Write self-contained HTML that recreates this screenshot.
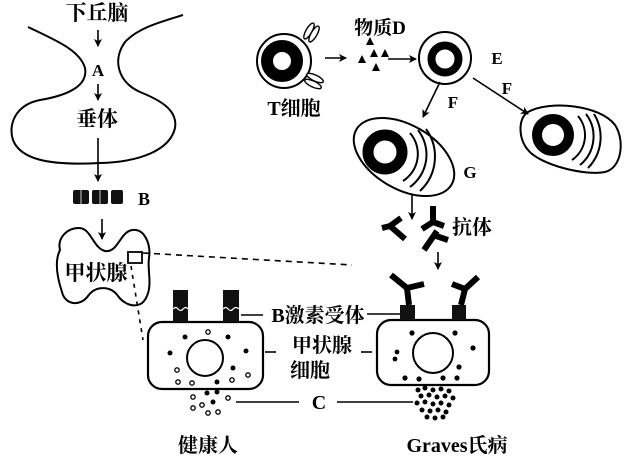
<!DOCTYPE html>
<html><head><meta charset="utf-8"><style>
html,body{margin:0;padding:0;background:#fff;}
svg{display:block;}
.cj{font-family:"Liberation Serif","Noto Serif CJK SC",serif;font-weight:bold;fill:#000;}
.lt{font-family:"Liberation Serif",serif;fill:#000;font-weight:bold;}
</style></head><body>
<svg width="629" height="461" viewBox="0 0 629 461" xmlns="http://www.w3.org/2000/svg">
<defs>
<marker id="ah" markerWidth="8" markerHeight="8" refX="7" refY="4" orient="auto" markerUnits="userSpaceOnUse">
<path d="M0,0 L8,4 L0,8 L2,4 z" fill="#000"/>
</marker>
</defs>
<g fill="none" stroke="#000" stroke-width="2">
<path d="M28,27 C55,40 80,50 85,68 C88,85 70,95 40,100 C15,105 8,125 13,140 C20,158 45,166 100,163 C140,162 170,150 175,128 C178,110 160,100 140,92 C118,82 112,60 125,42 C138,28 160,22 183,15"/>
<path d="M60,250 C57,238 67,228 79,228 C91,228 93,248 105,251 C118,253 120,232 132,230 C145,228 151,245 149,258 C147,270 153,285 146,298 C140,310 125,306 118,296 C111,286 96,285 88,296 C80,307 65,305 62,292 C58,280 54,262 60,250 Z"/>
<rect x="128" y="252" width="14" height="11" stroke-width="1.8"/>
</g>
<g stroke="#000" stroke-width="1.6" fill="none">
<line x1="98" y1="30" x2="98" y2="46" marker-end="url(#ah)"/>
<line x1="98" y1="84" x2="98" y2="100" marker-end="url(#ah)"/>
<line x1="98" y1="138" x2="98" y2="181" marker-end="url(#ah)"/>
<line x1="102" y1="219" x2="102" y2="239" marker-end="url(#ah)"/>
<line x1="325" y1="58" x2="346" y2="58" marker-end="url(#ah)"/>
<line x1="388" y1="59" x2="416" y2="59" marker-end="url(#ah)"/>
<line x1="440" y1="82" x2="423" y2="117" marker-end="url(#ah)"/>
<line x1="473" y1="78" x2="528" y2="114" marker-end="url(#ah)"/>
<line x1="412" y1="195" x2="412" y2="219" marker-end="url(#ah)"/>
<line x1="438" y1="252" x2="438" y2="269" marker-end="url(#ah)"/>
</g>
<line x1="143" y1="253" x2="352" y2="265" stroke="#000" stroke-width="1.6" stroke-dasharray="6,5"/>
<line x1="131" y1="266" x2="143" y2="340" stroke="#000" stroke-width="1.6" stroke-dasharray="4,5"/>
<g fill="#111">
<rect x="73" y="190" width="16" height="14" rx="2"/>
<rect x="92" y="190" width="16" height="14" rx="2"/>
<rect x="111" y="190" width="12" height="14" rx="2"/>
</g>
<g stroke="#fff" stroke-width="0.8" fill="none">
<line x1="81" y1="190" x2="81" y2="204"/><line x1="100" y1="190" x2="100" y2="204"/>
</g>

<!-- T cell -->
<circle cx="284" cy="61" r="27" fill="none" stroke="#000" stroke-width="2"/>
<circle cx="282" cy="61" r="15" fill="none" stroke="#000" stroke-width="12"/>
<g fill="#fff" stroke="#000" stroke-width="1.4">
<ellipse cx="309" cy="31" rx="9" ry="3" transform="rotate(-60 309 31)"/>
<ellipse cx="314" cy="34" rx="9" ry="3" transform="rotate(-60 314 34)"/>
<ellipse cx="315" cy="78" rx="9" ry="3" transform="rotate(25 315 78)"/>
<ellipse cx="313" cy="84" rx="9" ry="3" transform="rotate(25 313 84)"/>
</g>
<g fill="#000">
<path d="M370,37 L374,45 L366,45 z"/>
<path d="M362,55 L366,63 L358,63 z"/>
<path d="M374,49 L378,57 L370,57 z"/>
<path d="M385,49 L389,57 L381,57 z"/>
<path d="M376,63 L380,71 L372,71 z"/>
</g>
<!-- E cell -->
<circle cx="445" cy="58" r="26" fill="none" stroke="#000" stroke-width="2"/>
<circle cx="445" cy="59" r="13.5" fill="none" stroke="#000" stroke-width="8"/>
<!-- G cell -->
<ellipse cx="404" cy="157" rx="55" ry="32" transform="rotate(30 404 157)" fill="none" stroke="#000" stroke-width="2"/>
<circle cx="385" cy="152" r="17" fill="none" stroke="#000" stroke-width="11"/>
<g fill="none" stroke="#000" stroke-width="2">
<path d="M410,133 A32,32 0 0 1 403,181"/>
<path d="M418,130 A40,40 0 0 1 410,187"/>
<path d="M426,129 A47,47 0 0 1 420,191"/>
</g>
<!-- right plasma cell -->
<path d="M528,112 C550,100 600,105 615,125 C625,140 622,168 605,172 C585,176 540,165 528,150 C518,138 518,118 528,112 Z" fill="none" stroke="#000" stroke-width="2"/>
<circle cx="553" cy="135" r="16" fill="none" stroke="#000" stroke-width="10"/>
<g fill="none" stroke="#000" stroke-width="2">
<path d="M578,116 A30,30 0 0 1 572,160"/>
<path d="M586,114 A37,37 0 0 1 580,165"/>
<path d="M594,114 A44,44 0 0 1 588,168"/>
</g>
<g fill="none" stroke="#000" stroke-width="6" stroke-linecap="butt">
<path d="M401,218 L390,226 L405,239 M390,226 L382,228"/>
<path d="M433,206 L433,222 M422,229 L433,222 L444,226"/>
<path d="M437,231 L424,250 M436,236 L448,240"/>
</g>

<!-- left thyroid cell -->
<rect x="148" y="322" width="115" height="67" rx="14" fill="none" stroke="#000" stroke-width="2.2"/>
<circle cx="205" cy="358" r="18" fill="none" stroke="#000" stroke-width="2"/>
<rect x="173" y="290" width="15" height="32" fill="#111"/>
<rect x="223" y="290" width="16" height="32" fill="#111"/>
<g stroke="#fff" stroke-width="1.2" fill="none">
<path d="M173,309 q3,-3 5,0 q3,3 5,0 q3,-3 5,0"/>
<path d="M223,309 q3,-3 5,0 q3,3 5,0 q3,-3 6,0"/>
</g>
<g fill="#000">
<circle cx="185" cy="337" r="2.5"/><circle cx="228" cy="337" r="2.5"/>
<circle cx="170" cy="353" r="2.5"/><circle cx="246" cy="351" r="2.5"/>
<circle cx="233" cy="368" r="2.5"/><circle cx="217" cy="382" r="2.5"/>
<circle cx="207" cy="393" r="2.5"/><circle cx="217" cy="392" r="2.5"/>
<circle cx="213" cy="402" r="2.5"/>
</g>
<g fill="#fff" stroke="#000" stroke-width="1.3">
<circle cx="208" cy="332" r="2.2"/><circle cx="177" cy="370" r="2.2"/>
<circle cx="178" cy="382" r="2.2"/><circle cx="192" cy="383" r="2.2"/>
<circle cx="232" cy="380" r="2.2"/><circle cx="248" cy="375" r="2.2"/>
<circle cx="193" cy="397" r="2.2"/><circle cx="202" cy="405" r="2.2"/>
<circle cx="193" cy="408" r="2.2"/><circle cx="228" cy="398" r="2.2"/>
<circle cx="208" cy="413" r="2.2"/><circle cx="218" cy="412" r="2.2"/>
</g>

<!-- right thyroid cell -->
<rect x="377" y="320" width="112" height="65" rx="14" fill="none" stroke="#000" stroke-width="2.2"/>
<circle cx="433" cy="353" r="20" fill="none" stroke="#000" stroke-width="2"/>
<rect x="400" y="305" width="15" height="15" fill="#111"/>
<rect x="452" y="305" width="14" height="15" fill="#111"/>
<g fill="none" stroke="#000" stroke-width="6" stroke-linecap="butt">
<path d="M391,275 L407,288 L409,305 M407,288 L424,284"/>
<path d="M452,284 L465,289 L461,305 M465,289 L478,277"/>
</g>
<g fill="#000">
<circle cx="412" cy="333" r="2.6"/><circle cx="455" cy="333" r="2.6"/>
<circle cx="473" cy="348" r="2.6"/><circle cx="397" cy="352" r="2.4"/>
<circle cx="395" cy="359" r="2.4"/><circle cx="459" cy="367" r="2.6"/>
<circle cx="405" cy="378" r="2.6"/><circle cx="419" cy="379" r="2.6"/>
<circle cx="443" cy="378" r="2.6"/><circle cx="457" cy="378" r="2.6"/>
<circle cx="418" cy="390" r="2.5"/><circle cx="425" cy="388" r="2.5"/><circle cx="433" cy="390" r="2.5"/>
<circle cx="441" cy="389" r="2.5"/><circle cx="449" cy="391" r="2.5"/><circle cx="421" cy="396" r="2.5"/>
<circle cx="429" cy="395" r="2.5"/><circle cx="437" cy="397" r="2.5"/><circle cx="445" cy="396" r="2.5"/>
<circle cx="453" cy="398" r="2.5"/><circle cx="417" cy="403" r="2.5"/><circle cx="425" cy="402" r="2.5"/>
<circle cx="433" cy="404" r="2.5"/><circle cx="441" cy="403" r="2.5"/><circle cx="449" cy="405" r="2.5"/>
<circle cx="422" cy="410" r="2.5"/><circle cx="430" cy="411" r="2.5"/><circle cx="438" cy="410" r="2.5"/>
<circle cx="446" cy="412" r="2.5"/><circle cx="427" cy="417" r="2.5"/><circle cx="435" cy="418" r="2.5"/>
<circle cx="443" cy="417" r="2.5"/>
</g>

<g stroke="#000" stroke-width="1.6">
<line x1="241" y1="315" x2="263" y2="315"/>
<line x1="367" y1="314" x2="400" y2="314"/>
<line x1="265" y1="352" x2="276" y2="352"/>
<line x1="361" y1="352" x2="372" y2="352"/>
<line x1="236" y1="402" x2="299" y2="402"/>
<line x1="337" y1="402" x2="413" y2="402"/>
</g>

<text class="cj" x="97" y="20" font-size="21" text-anchor="middle">下丘脑</text>
<text class="lt" x="98" y="76" font-size="17" text-anchor="middle">A</text>
<text class="cj" x="97" y="126" font-size="21" text-anchor="middle">垂体</text>
<text class="lt" x="144" y="205" font-size="18" text-anchor="middle">B</text>
<text class="cj" x="96" y="280" font-size="21" text-anchor="middle">甲状腺</text>
<text class="cj" x="294" y="115" font-size="20" text-anchor="middle">T细胞</text>
<text class="cj" x="380" y="34" font-size="19" text-anchor="middle">物质D</text>
<text class="lt" x="497" y="64" font-size="17" text-anchor="middle">E</text>
<text class="lt" x="453" y="108" font-size="17" text-anchor="middle">F</text>
<text class="lt" x="507" y="94" font-size="17" text-anchor="middle">F</text>
<text class="lt" x="470" y="178" font-size="17" text-anchor="middle">G</text>
<text class="cj" x="472" y="234" font-size="20" text-anchor="middle">抗体</text>
<text class="cj" x="318" y="322" font-size="20" text-anchor="middle">B激素受体</text>
<text class="cj" x="322" y="352" font-size="20" text-anchor="middle">甲状腺</text>
<text class="cj" x="310" y="377" font-size="20" text-anchor="middle">细胞</text>
<text class="lt" x="319" y="409" font-size="20" text-anchor="middle">C</text>
<text class="cj" x="208" y="452" font-size="20" text-anchor="middle">健康人</text>
<text class="cj" x="457" y="452" font-size="20" text-anchor="middle">Graves氏病</text>
</svg>
</body></html>
